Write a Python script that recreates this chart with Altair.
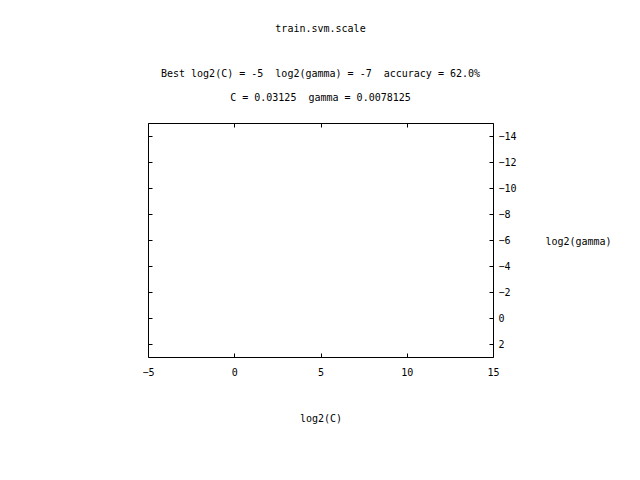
import altair as alt
import pandas as pd

title_text = "train.svm.scale"
subtitle_lines = [
    "Best log2(C) = -5\u00a0 log2(gamma) = -7\u00a0 accuracy = 62.0%",
    "C = 0.03125\u00a0 gamma = 0.0078125",
]
x_domain = [-5, 15]
y_domain = [-15, 3]
x_ticks = [-5, 0, 5, 10, 15]
y_ticks = [-14, -12, -10, -8, -6, -4, -2, 0, 2]
x_label = "log2(C)"
y_label = "log2(gamma)"

df = pd.DataFrame({"c": x_domain, "g": y_domain})

FONT = "DejaVu Sans Mono"

xs = alt.Scale(domain=x_domain, nice=False, zero=False)
ys = alt.Scale(domain=y_domain, nice=False, zero=False, reverse=True)

common_axis = dict(domain=True, domainColor="black", domainWidth=1, grid=False,
                   tickSize={"expr": "-4"}, offset=0,
                   tickColor="black", labelColor="black", labelFont=FONT,
                   labelFontSize=10, titleFont=FONT, titleFontSize=10,
                   titleFontWeight="normal", titleColor="black")

bottom = alt.Chart(df).mark_point(opacity=0).encode(
    x=alt.X("c:Q", scale=xs, axis=alt.Axis(
        orient="bottom", values=x_ticks, title=x_label, labelPadding=14,
        labelFlush=False, titleY=61, titleBaseline="middle", titleAnchor="middle",
        **common_axis)),
    y=alt.Y("g:Q", scale=ys, axis=alt.Axis(
        orient="left", values=y_ticks, title=None, labels=False, **common_axis)),
)

top = alt.Chart(df).mark_point(opacity=0).encode(
    x=alt.X("c:Q", scale=xs, axis=alt.Axis(
        orient="top", values=x_ticks, title=None, labels=False, **common_axis)),
    y=alt.Y("g:Q", scale=ys, axis=alt.Axis(
        orient="right", values=y_ticks, title=y_label, labelPadding=9,
        labelFlush=False,
        labelExpr="datum.value >= 0 ? '\u00a0' + datum.label : datum.label",
        titleAngle=0, titleX=85, titleY=118, titleAlign="center",
        titleBaseline="middle", **common_axis)),
)

chart = alt.layer(bottom, top).resolve_axis(x="independent", y="independent").properties(
    width=345, height=234,
    autosize=alt.AutoSizeParams(type="none"),
    padding={"left": 148, "top": 123, "right": 147, "bottom": 123},
    title=alt.TitleParams(text=title_text, subtitle=subtitle_lines, anchor="middle",
                          font=FONT, fontSize=10, fontWeight="normal", color="black",
                          subtitleFont=FONT, subtitleFontSize=10, subtitleColor="black",
                          subtitleLineHeight=24, subtitlePadding=35, offset=17),
).configure(background="white", view=alt.ViewConfig(stroke="transparent"))

chart.save("out.html", embed_options={"renderer": "svg", "actions": False})
